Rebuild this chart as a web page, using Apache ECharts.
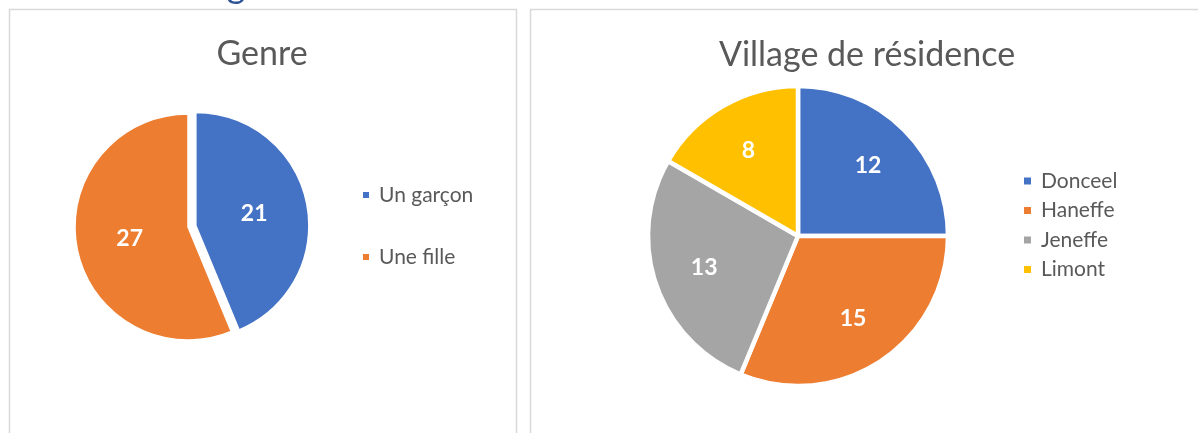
<!DOCTYPE html>
<html>
<head>
<meta charset="utf-8">
<script src="https://cdn.jsdelivr.net/npm/echarts@6/dist/echarts.min.js"></script>
<style>
  html, body { margin: 0; padding: 0; background: #fff; }
  #chart { width: 1198px; height: 433px; }
</style>
</head>
<body>
<div id="chart"></div>
<script>
// --- données ---
const genreLabels = ['Un garçon', 'Une fille']
const genreValues = [21, 27]
const villageLabels = ['Donceel', 'Haneffe', 'Jeneffe', 'Limont']
const villageValues = [12, 15, 13, 8]

const COLORS = ['#4472C4', '#ED7D31', '#A5A5A5', '#FFC000']
const FONT = 'Lato, "Open Sans", sans-serif'
const TEXT_GREY = '#595959'

// centre du camembert de droite (pour écarter un peu les étiquettes)
const VCX = 798, VCY = 236

const chart = echarts.init(document.getElementById('chart'))

const labelStyle = {
  show: true,
  position: 'inside',
  formatter: '{c}',
  color: '#fff',
  fontFamily: FONT,
  fontWeight: 'bold',
  fontSize: 23
}

const legendText = { color: TEXT_GREY, fontFamily: FONT, fontSize: 21, lineHeight: 24, padding: [0, 0, 0, 4] }

chart.setOption({
  animation: false,
  graphic: [
    // cadres des deux graphiques
    { type: 'rect', shape: { x: 9.5, y: 9.5, width: 507, height: 460 },
      style: { fill: 'none', stroke: '#d9d9d9', lineWidth: 1.5 }, silent: true },
    { type: 'rect', shape: { x: 530.5, y: 9.5, width: 720, height: 460 },
      style: { fill: 'none', stroke: '#d9d9d9', lineWidth: 1.5 }, silent: true },
    // bout du titre du document, coupé en haut
    { type: 'text', x: 236, y: -14,
      style: { text: 'g', fontSize: 36, fontFamily: FONT, fill: '#2F5496', align: 'center', verticalAlign: 'middle' } },
    // titres
    { type: 'text', x: 262, y: 54,
      style: { text: 'Genre', fontSize: 34, fontFamily: FONT, fill: TEXT_GREY, align: 'center', verticalAlign: 'middle' } },
    { type: 'text', x: 867, y: 55,
      style: { text: 'Village de résidence', fontSize: 34, fontFamily: FONT, fill: TEXT_GREY, align: 'center', verticalAlign: 'middle' } }
  ],
  legend: [
    {
      data: genreLabels,
      orient: 'vertical',
      left: 361, top: 183,
      padding: 0,
      icon: 'rect', itemWidth: 8, itemHeight: 8,
      itemGap: 38,
      selectedMode: false,
      textStyle: legendText
    },
    {
      data: villageLabels,
      orient: 'vertical',
      left: 1022, top: 169,
      padding: 0,
      icon: 'rect', itemWidth: 9, itemHeight: 9,
      itemGap: 5.5,
      selectedMode: false,
      textStyle: legendText
    }
  ],
  series: [
    {
      name: 'Genre',
      type: 'pie',
      center: [188, 227],
      radius: 113,
      startAngle: 90,
      clockwise: true,
      selectedMode: 'single',
      selectedOffset: 8,
      avoidLabelOverlap: false,
      itemStyle: { borderColor: '#fff', borderWidth: 1.5 },
      label: labelStyle,
      labelLine: { show: false },
      emphasis: { disabled: true },
      data: genreLabels.map((n, i) => ({
        name: n, value: genreValues[i], selected: i === 0,
        itemStyle: { color: COLORS[i] }
      }))
    },
    {
      name: 'Village de résidence',
      type: 'pie',
      center: [VCX, VCY],
      radius: 150,
      startAngle: 90,
      clockwise: true,
      avoidLabelOverlap: false,
      itemStyle: { borderColor: '#fff', borderWidth: 4.5 },
      label: labelStyle,
      labelLine: { show: false },
      emphasis: { disabled: true },
      // écarte les étiquettes vers l'extérieur, comme dans Excel
      labelLayout: (p) => {
        const lx = p.labelRect.x + p.labelRect.width / 2
        const ly = p.labelRect.y + p.labelRect.height / 2
        return { dx: (lx - VCX) * 0.27, dy: (ly - VCY) * 0.27 }
      },
      data: villageLabels.map((n, i) => ({
        name: n, value: villageValues[i],
        itemStyle: { color: COLORS[i] }
      }))
    }
  ]
})
</script>
</body>
</html>
